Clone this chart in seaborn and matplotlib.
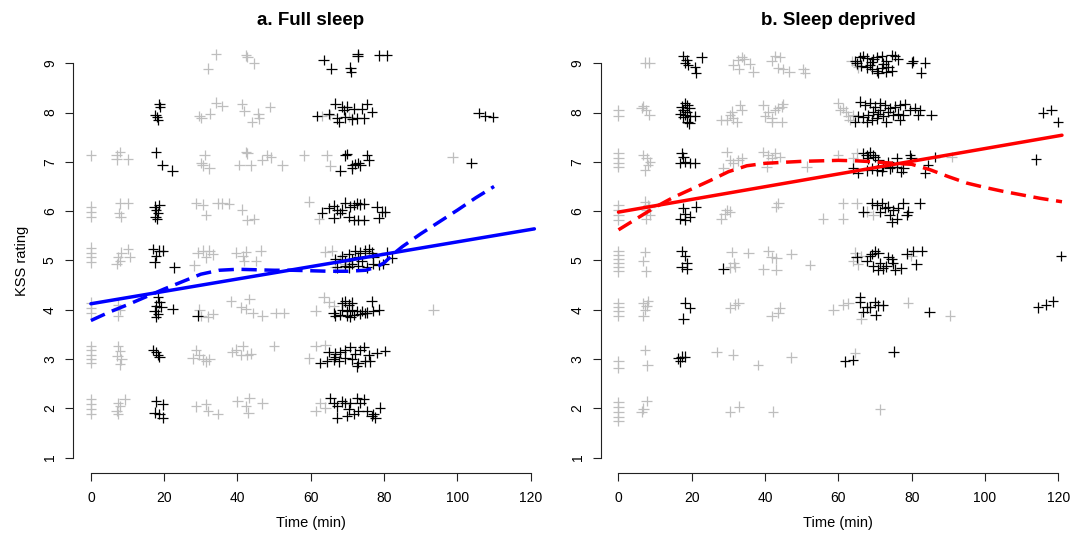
import matplotlib
matplotlib.use("Agg")
import matplotlib.pyplot as plt
import pandas as pd
import seaborn as sns

# ---- a. Full sleep: grey points (time, KSS) ----
full_grey = [
    (34.1, 9.18), (31.9, 8.89), (42.3, 9.16), (42.7, 9.13), (44.5, 9.00),
    (29.6, 7.93), (30.1, 7.89), (32.5, 7.98), (34.1, 8.20), (35.9, 8.13), (41.2, 8.17), (41.9, 8.03),
    (43.9, 7.81), (45.7, 7.98), (45.9, 7.88), (48.9, 8.11), (63.1, 7.93), (65.3, 7.95), (70.3, 7.91), (71.2, 7.88),
    (0, 7.13), (7.0, 7.14), (7.9, 7.20), (7.0, 7.05), (10.1, 7.05), (31.0, 7.14), (30.1, 6.98), (30.5, 6.93),
    (32.3, 6.87), (40.5, 6.94), (42.3, 7.20), (42.7, 7.17), (43.6, 6.93), (46.8, 7.04), (48.1, 7.14), (49.1, 7.09),
    (52.2, 6.93), (58.1, 7.13), (64.3, 7.13), (65.3, 6.92), (98.7, 7.09),
    (0, 6.09), (0, 5.99), (0, 5.89), (7.9, 6.16), (10.1, 6.16), (7.7, 5.96), (8.1, 5.89), (28.7, 6.16),
    (30.5, 6.13), (31.4, 5.92), (34.6, 6.16), (35.9, 6.16), (37.7, 6.15), (41.2, 6.03), (42.7, 5.82), (44.5, 5.84),
    (59.5, 6.19), (62.2, 5.84),
    (0, 5.26), (0, 5.16), (0, 5.06), (0, 4.96), (7.4, 5.06), (7.9, 4.99), (8.3, 5.16), (10.1, 5.23), (10.6, 5.07),
    (7.0, 4.93), (29.1, 5.16), (30.5, 5.20), (31.4, 5.06), (32.3, 5.20), (33.2, 5.12), (28.2, 4.90), (39.6, 5.16),
    (41.4, 5.09), (42.3, 5.18), (41.8, 4.99), (45.0, 4.99), (46.3, 5.20), (64.0, 5.18), (65.8, 5.20), (68.1, 5.03),
    (69.4, 4.93), (66.7, 4.86),
    (0, 4.14), (0, 4.04), (0, 3.94), (7.4, 4.10), (7.9, 4.00), (7.4, 3.87), (29.6, 4.00), (30.1, 3.87), (31.9, 3.86),
    (33.2, 3.91), (38.2, 4.17), (43.2, 4.22), (40.9, 4.05), (42.3, 4.01), (44.1, 3.93), (46.8, 3.88), (50.4, 3.93),
    (52.7, 3.93), (61.3, 3.98), (63.5, 4.25), (64.9, 4.15), (66.2, 4.08), (93.4, 4.00),
    (0, 3.26), (0, 3.18), (0, 3.09), (0, 3.00), (0, 2.92), (7.4, 3.26), (7.9, 3.16), (7.2, 3.06), (8.3, 2.99),
    (7.9, 2.89), (28.7, 3.18), (27.8, 3.01), (29.6, 3.08), (30.5, 2.99), (31.4, 2.95), (32.3, 2.99), (38.6, 3.14),
    (39.6, 3.19), (41.4, 3.26), (40.9, 3.08), (42.7, 3.08), (43.6, 3.11), (50.0, 3.26), (61.3, 3.26), (64.0, 3.28),
    (59.5, 3.01),
    (0, 2.18), (0, 2.08), (0, 1.98), (0, 1.88), (7.4, 2.11), (7.9, 2.04), (7.0, 1.94), (9.2, 2.18), (7.4, 1.88),
    (28.7, 2.04), (31.4, 2.08), (31.9, 1.94), (34.6, 1.88), (40.0, 2.14), (43.2, 2.21), (42.3, 2.04), (43.0, 1.91),
    (46.8, 2.10), (61.3, 1.94), (62.6, 2.11), (64.0, 2.01),
]

# ---- a. Full sleep: black points ----
full_black = [
    (63.5, 9.07), (65.6, 8.89), (70.8, 8.91), (71.0, 8.82), (72.8, 9.18), (72.8, 9.14), (78.6, 9.16), (80.7, 9.16),
    (18.7, 8.17), (18.9, 8.11), (17.6, 7.95), (18.0, 7.91), (18.3, 7.85), (66.7, 8.18), (68.5, 8.12), (69.0, 8.05),
    (69.9, 8.12), (71.7, 8.08), (73.9, 8.08), (75.3, 8.17), (76.7, 8.01), (61.7, 7.93), (64.9, 7.97), (67.1, 7.88),
    (67.6, 7.81), (69.4, 7.90), (71.2, 7.86), (72.6, 7.88), (74.4, 7.88), (105.8, 7.99), (107.6, 7.93), (109.7, 7.91),
    (17.8, 7.19), (19.5, 6.94), (22.2, 6.82), (69.4, 7.13), (69.9, 7.16), (75.3, 7.14), (75.8, 7.03), (71.2, 6.93),
    (72.1, 6.96), (73.0, 6.98), (73.5, 6.93), (68.1, 6.82), (71.2, 6.87), (103.8, 6.98),
    (17.4, 6.09), (17.8, 6.02), (18.3, 5.96), (17.6, 5.89), (18.7, 6.12), (18.0, 5.84), (63.1, 5.97), (64.9, 6.06),
    (66.2, 6.11), (67.1, 6.03), (68.1, 5.96), (69.4, 6.17), (70.8, 6.09), (71.7, 6.12), (72.6, 6.16), (73.5, 6.14),
    (74.4, 6.15), (66.2, 5.86), (68.5, 6.03), (70.3, 5.89), (71.7, 5.82), (73.0, 5.82), (74.4, 5.82), (78.0, 6.09),
    (79.4, 5.99), (78.5, 5.86), (80.3, 5.99),
    (16.9, 5.23), (18.7, 5.20), (19.6, 5.20), (17.8, 5.09), (17.4, 4.96), (22.8, 4.86), (66.7, 5.03), (68.5, 5.09),
    (69.4, 4.99), (70.3, 5.13), (71.2, 5.03), (72.1, 5.20), (73.0, 5.06), (73.9, 4.99), (74.9, 5.20), (75.8, 5.23),
    (76.6, 5.16), (77.1, 5.06), (67.1, 4.86), (69.4, 4.89), (71.2, 4.93), (73.0, 4.89), (75.3, 4.86), (77.1, 4.93),
    (78.5, 4.91), (79.8, 4.93), (82.1, 5.05), (80.7, 5.16), (73.5, 5.16), (70.3, 4.86),
    (29.1, 3.88), (18.3, 4.25), (18.7, 4.15), (17.8, 4.08), (19.2, 4.06), (17.4, 3.98), (18.3, 3.91), (17.8, 3.86),
    (22.3, 4.01), (68.5, 4.14), (69.4, 4.17), (70.3, 4.10), (71.2, 4.14), (68.5, 4.00), (69.9, 3.97), (71.2, 4.00),
    (72.6, 3.97), (73.9, 3.97), (75.3, 3.94), (76.6, 4.17), (77.1, 3.97), (78.5, 4.00), (66.2, 3.93), (68.1, 3.89),
    (69.9, 3.88), (71.7, 3.89), (73.5, 3.91), (74.9, 3.93), (66.7, 3.88), (70.8, 3.86),
    (16.9, 3.18), (17.8, 3.14), (18.3, 3.08), (18.7, 3.04), (64.9, 3.14), (66.7, 3.11), (68.1, 3.14), (69.4, 3.18),
    (70.8, 3.24), (72.1, 3.11), (73.5, 3.18), (74.4, 3.24), (75.8, 3.08), (78.0, 3.12), (80.3, 3.16), (62.6, 2.92),
    (64.4, 2.95), (66.2, 2.99), (67.6, 2.95), (69.4, 3.01), (71.2, 2.99), (73.0, 2.92), (74.9, 2.95), (76.2, 2.95),
    (72.6, 2.85), (66.7, 3.04),
    (17.8, 2.14), (19.6, 2.08), (17.4, 1.91), (18.7, 1.88), (19.6, 1.81), (65.3, 2.21), (66.2, 2.11), (68.5, 2.14),
    (69.4, 2.11), (70.8, 2.11), (72.6, 2.21), (73.5, 2.11), (74.4, 2.18), (67.1, 2.04), (70.3, 1.98), (71.7, 1.88),
    (73.0, 1.94), (75.3, 1.94), (77.1, 1.88), (78.9, 2.01), (76.6, 1.84), (67.1, 1.81), (69.9, 1.84), (77.6, 1.81),
]

# ---- b. Sleep deprived: grey points ----
sdep_grey = [
    (7.2, 9.01), (8.4, 9.01), (31.3, 8.97), (32.7, 9.07), (33.6, 9.13), (34.2, 9.08), (32.9, 8.88), (35.9, 8.99),
    (36.8, 8.83), (41.8, 9.05), (42.7, 9.15), (44.0, 9.13), (43.6, 8.90), (44.9, 8.88), (46.6, 8.83), (50.4, 8.88),
    (50.9, 8.81), (63.6, 9.05), (65.0, 8.97), (65.4, 8.92),
    (0, 8.05), (0, 7.93), (6.8, 8.13), (7.5, 8.05), (8.4, 7.95), (6.3, 8.09), (28.1, 7.85), (29.5, 7.85),
    (30.4, 7.95), (31.3, 7.88), (32.2, 7.81), (30.9, 8.02), (33.1, 8.15), (33.6, 8.05), (39.5, 8.15), (40.0, 7.92),
    (40.9, 8.02), (41.8, 7.88), (42.7, 8.05), (43.6, 8.09), (44.5, 8.12), (44.9, 8.17), (44.5, 7.81), (41.8, 7.81),
    (59.9, 8.19), (61.3, 8.09), (62.2, 8.02), (62.7, 7.92), (63.1, 7.85), (60.4, 8.05), (64.0, 7.95),
    (0, 7.17), (0, 7.07), (0, 6.97), (0, 6.90), (6.8, 7.14), (7.7, 7.07), (8.1, 6.94), (7.2, 6.83), (8.6, 7.00),
    (28.6, 6.87), (29.5, 7.20), (30.4, 7.03), (31.3, 6.97), (32.7, 7.03), (33.6, 7.07), (39.5, 7.20), (40.9, 7.14),
    (41.8, 7.07), (40.4, 6.90), (42.7, 7.17), (44.0, 7.10), (51.3, 6.90), (59.9, 7.14), (64.0, 7.07), (65.0, 7.17),
    (90.9, 7.10),
    (0, 6.12), (0, 6.02), (0, 5.92), (0, 5.82), (7.2, 6.19), (8.1, 6.12), (7.7, 6.02), (8.6, 5.92), (7.5, 5.85),
    (8.4, 6.09), (28.1, 5.85), (29.0, 5.95), (29.5, 6.02), (30.4, 5.99), (43.1, 6.09), (43.6, 6.16), (55.8, 5.85),
    (61.3, 5.85), (61.3, 6.16), (65.0, 6.16), (67.7, 5.99), (69.5, 5.92),
    (0, 5.19), (0, 5.10), (0, 5.02), (0, 4.95), (0, 4.87), (0, 4.78), (7.2, 5.17), (6.8, 4.99), (7.5, 4.78),
    (30.9, 5.17), (31.4, 4.94), (35.4, 5.15), (31.8, 4.87), (30.4, 4.86), (40.9, 5.19), (41.8, 5.06), (43.1, 5.04),
    (39.5, 4.82), (43.1, 4.81), (47.2, 5.13), (52.2, 4.91), (64.5, 5.16), (64.0, 4.99), (65.4, 4.92), (66.3, 5.09),
    (79.9, 5.09),
    (0, 4.13), (0, 4.05), (0, 3.97), (0, 3.87), (6.8, 4.13), (7.7, 4.08), (8.1, 4.17), (7.2, 4.00), (6.8, 3.87),
    (30.4, 4.04), (31.8, 4.10), (32.7, 4.13), (41.8, 3.87), (43.6, 3.94), (44.0, 4.04), (58.6, 4.00), (61.3, 4.10),
    (62.7, 4.13), (66.3, 3.82), (79.0, 4.14), (90.4, 3.88),
    (0, 2.95), (0, 2.82), (7.2, 3.18), (7.9, 2.87), (26.8, 3.14), (31.3, 3.09), (38.1, 2.88), (47.2, 3.03),
    (64.5, 3.12),
    (0, 2.13), (0, 2.03), (0, 1.93), (0, 1.82), (0, 1.74), (7.7, 2.15), (6.8, 1.99), (6.3, 1.93), (30.4, 1.93),
    (32.9, 2.03), (42.2, 1.93), (71.3, 1.98),
]

# ---- b. Sleep deprived: black points ----
sdep_black = [
    (17.7, 9.15), (18.6, 9.07), (18.1, 9.01), (19.0, 8.97), (20.9, 8.92), (21.1, 8.81), (22.7, 9.12), (64.5, 9.05),
    (65.9, 9.13), (66.8, 9.15), (67.7, 9.10), (69.1, 9.03), (70.4, 9.13), (71.8, 9.15), (73.1, 9.05), (74.5, 9.17),
    (75.4, 9.15), (76.3, 9.08), (65.0, 9.00), (66.3, 8.95), (67.7, 8.92), (69.1, 8.88), (70.4, 8.85), (71.8, 8.90),
    (73.1, 8.83), (74.5, 8.85), (70.9, 8.80), (68.6, 8.97), (72.3, 8.99), (73.6, 8.93), (69.5, 9.08), (80.4, 9.05),
    (83.6, 9.01), (82.5, 8.81), (80.0, 9.01),
    (17.2, 8.12), (18.1, 8.19), (18.8, 8.15), (17.7, 8.05), (18.6, 8.02), (19.3, 8.09), (16.8, 7.97), (18.1, 7.95),
    (19.5, 7.92), (20.9, 7.93), (18.8, 7.81), (19.3, 7.78), (17.7, 7.90), (65.9, 8.22), (67.2, 8.15), (68.6, 8.19),
    (69.9, 8.12), (71.3, 8.19), (72.6, 8.15), (74.0, 8.09), (75.4, 8.12), (76.7, 8.15), (78.1, 8.17), (79.4, 8.05),
    (80.8, 8.09), (82.2, 8.05), (85.4, 7.95), (65.4, 7.92), (66.8, 7.90), (68.2, 7.95), (69.5, 8.02), (70.9, 7.97),
    (72.3, 7.93), (73.6, 8.02), (75.0, 7.95), (76.3, 7.98), (77.7, 7.95), (67.7, 7.81), (69.1, 7.85), (70.4, 7.88),
    (73.1, 7.81), (76.7, 7.85), (81.8, 7.95), (64.5, 7.81), (71.3, 8.05), (115.8, 8.00), (118.1, 8.05), (119.9, 7.81),
    (17.2, 7.17), (17.7, 7.10), (18.1, 7.00), (19.5, 6.98), (20.9, 6.98), (16.8, 6.98), (66.8, 7.17), (67.7, 7.14),
    (68.6, 7.20), (69.5, 7.14), (68.1, 7.07), (69.9, 7.10), (70.9, 7.03), (72.3, 6.90), (73.6, 7.00), (74.5, 6.90),
    (75.9, 7.07), (77.2, 6.80), (79.5, 7.14), (79.9, 7.07), (84.5, 6.94), (83.6, 6.77), (86.3, 7.10), (64.0, 6.87),
    (65.4, 6.77), (67.7, 6.83), (69.1, 6.87), (70.4, 6.83), (71.8, 6.82), (74.0, 6.87), (77.7, 6.87), (75.9, 6.90),
    (113.9, 7.05),
    (17.7, 6.06), (18.1, 5.95), (16.8, 5.85), (18.1, 5.82), (19.5, 5.89), (21.1, 6.09), (69.1, 6.16), (70.4, 6.12),
    (71.8, 6.16), (72.7, 6.06), (73.6, 6.09), (75.0, 6.02), (76.3, 6.06), (77.7, 6.16), (79.0, 5.99), (82.2, 6.16),
    (66.8, 5.99), (74.0, 5.92), (75.9, 5.85), (74.5, 5.78), (78.6, 5.92), (71.3, 5.99),
    (17.2, 5.19), (18.1, 5.09), (18.6, 4.95), (17.2, 4.87), (18.6, 4.83), (28.6, 4.83), (65.0, 5.06), (67.7, 4.99),
    (69.1, 5.13), (70.0, 5.19), (70.9, 5.15), (69.5, 4.88), (71.3, 4.94), (72.2, 4.84), (73.6, 5.06), (74.5, 5.02),
    (73.1, 4.88), (74.9, 4.94), (75.4, 4.81), (77.2, 4.84), (78.6, 5.14), (80.4, 5.19), (82.7, 5.19), (81.3, 4.92),
    (70.9, 4.81), (68.6, 5.09), (120.7, 5.09),
    (18.1, 4.14), (19.5, 4.03), (17.7, 3.82), (65.9, 4.25), (65.9, 4.15), (67.7, 4.05), (68.6, 4.05), (66.8, 3.95),
    (69.9, 4.15), (70.9, 4.09), (72.2, 4.09), (70.2, 3.89), (84.8, 3.95), (114.5, 4.05), (116.6, 4.10), (118.6, 4.17),
    (16.3, 3.01), (17.2, 3.05), (16.8, 2.95), (18.1, 3.05), (61.8, 2.95), (64.0, 2.98), (75.1, 3.15),
]

# ---- fitted lines ----
fit_time = [0, 121]
full_linear = [4.12, 5.64]
sdep_linear = [5.98, 7.54]

full_smooth_time = [0, 5, 10, 15, 20, 25, 30, 35, 40, 45, 50, 55, 60, 65, 70, 75, 78, 80, 83, 85, 90, 95, 100, 105, 110]
full_smooth = [3.78, 3.95, 4.10, 4.26, 4.42, 4.57, 4.72, 4.80, 4.82, 4.81, 4.80, 4.80, 4.79, 4.78, 4.78, 4.80,
               4.87, 4.95, 5.16, 5.28, 5.54, 5.78, 6.02, 6.27, 6.50]
sdep_smooth_time = [0, 5, 10, 15, 20, 25, 30, 35, 40, 45, 50, 55, 60, 65, 70, 75, 80, 85, 90, 95, 100, 105, 110, 115, 121]
sdep_smooth = [5.62, 5.85, 6.08, 6.28, 6.45, 6.62, 6.80, 6.92, 6.97, 6.99, 7.01, 7.02, 7.03, 7.02, 7.00, 6.97,
               6.95, 6.84, 6.70, 6.57, 6.48, 6.40, 6.33, 6.26, 6.19]

GREY = "#bebebe"


def points_frame(grey, black):
    rows = [{"time": t, "kss": k, "group": "grey"} for t, k in grey]
    rows += [{"time": t, "kss": k, "group": "black"} for t, k in black]
    return pd.DataFrame(rows)


def draw_panel(ax, title, grey, black, lin, smooth_t, smooth, color):
    df = points_frame(grey, black)
    sns.scatterplot(df, x="time", y="kss", hue="group", palette={"grey": GREY, "black": "black"},
                    marker="+", s=58, linewidth=0.9, legend=False, ax=ax)
    sns.lineplot(x=fit_time, y=lin, color=color, lw=2.5, sort=False, estimator=None, ax=ax)
    sns.lineplot(x=smooth_t, y=smooth, color=color, lw=2.5, sort=False, estimator=None,
                 linestyle=(0, (4.4, 2.2)), ax=ax)
    ax.set_xlim(-4.8, 124.8)
    ax.set_ylim(0.68, 9.32)
    ax.set_xticks(range(0, 121, 20))
    ax.set_yticks(range(1, 10))
    ax.spines[["top", "right"]].set_visible(False)
    ax.spines["left"].set_bounds(1, 9)
    ax.spines["bottom"].set_bounds(0, 120)
    for sp in ("left", "bottom"):
        ax.spines[sp].set_linewidth(0.8)
        ax.spines[sp].set_color("#222222")
    ax.tick_params(axis="x", bottom=True, length=5.6, width=0.8, pad=7, labelsize=10,
                   color="#222222", labelcolor="black")
    ax.tick_params(axis="y", left=True, length=5.8, width=0.8, pad=6, labelsize=10,
                   color="#222222", labelcolor="black")
    for lab in ax.get_yticklabels():
        lab.set_rotation(90)
        lab.set_va("center")
    ax.set_xlabel("Time (min)", fontsize=10.5, labelpad=8, color="black")
    ax.set_title(title, fontsize=13.5, fontweight="bold", pad=16.5, color="black")


sns.set_theme(style="ticks")
plt.rcParams["font.family"] = ["Liberation Sans", "DejaVu Sans"]

fig = plt.figure(figsize=(10.84, 5.35), dpi=100)
ax1 = fig.add_axes([73.3 / 1084, 61.7 / 535, 475 / 1084, 425.8 / 535])
ax2 = fig.add_axes([600.9 / 1084, 61.7 / 535, 475 / 1084, 425.8 / 535])

draw_panel(ax1, "a. Full sleep", full_grey, full_black, full_linear, full_smooth_time, full_smooth, "#0000ff")
draw_panel(ax2, "b. Sleep deprived", sdep_grey, sdep_black, sdep_linear, sdep_smooth_time, sdep_smooth, "#ff0000")
ax1.set_ylabel("KSS rating", fontsize=10.5, labelpad=10, color="black")
ax2.set_ylabel("")

fig.savefig("out.png", dpi=100)
